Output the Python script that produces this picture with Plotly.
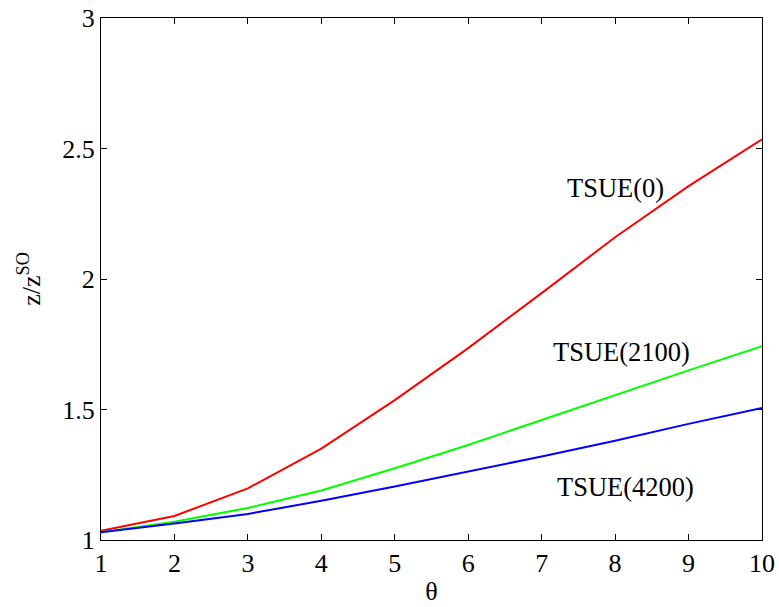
import plotly.graph_objects as go

theta = [1, 2, 3, 4, 5, 6, 7, 8, 9, 10]
tsue_0 = [1.035, 1.092, 1.198, 1.350, 1.536, 1.735, 1.946, 2.160, 2.356, 2.535]
tsue_2100 = [1.030, 1.070, 1.123, 1.190, 1.275, 1.364, 1.460, 1.556, 1.650, 1.743]
tsue_4200 = [1.030, 1.063, 1.100, 1.150, 1.205, 1.262, 1.320, 1.380, 1.445, 1.506]

labels = ["TSUE(0)", "TSUE(2100)", "TSUE(4200)"]
label_pos = [(8.0, 2.35), (8.09, 1.72), (8.14, 1.205)]

x_ticks = list(range(1, 11))
y_ticks = [1, 1.5, 2, 2.5, 3]
y_tick_text = ["1", "1.5", "2", "2.5", "3"]

FONT = "Liberation Serif, Times New Roman, serif"

fig = go.Figure()
for ys, col, name in [(tsue_0, "#ff0000", labels[0]),
                      (tsue_2100, "#00ff00", labels[1]),
                      (tsue_4200, "#0000ff", labels[2])]:
    fig.add_trace(go.Scatter(x=theta, y=ys, mode="lines", name=name,
                             line=dict(color=col, width=2)))

for (lx, ly), t in zip(label_pos, labels):
    fig.add_annotation(x=lx, y=ly, text=t, showarrow=False,
                       font=dict(family=FONT, size=26.5, color="black"))

axis_common = dict(showgrid=False, zeroline=False, showline=True, linecolor="black",
                   linewidth=1, mirror="ticks", ticks="inside", ticklen=6,
                   tickcolor="black", tickwidth=1, automargin=False,
                   tickfont=dict(family=FONT, size=26, color="black"))

fig.update_xaxes(range=[1, 10], tickvals=x_ticks, **axis_common,
                 title=dict(text="θ", font=dict(family=FONT, size=26, color="black"), standoff=4))
fig.update_yaxes(range=[1, 3], tickvals=y_ticks, ticktext=y_tick_text, **axis_common,
                 title=dict(text="z/z<sup>SO</sup>", font=dict(family=FONT, size=26, color="black"), standoff=14))

fig.update_layout(width=779, height=607, showlegend=False,
                  plot_bgcolor="white", paper_bgcolor="white",
                  margin=dict(l=101, r=17, t=18, b=67),
                  font=dict(family=FONT, color="black"))

# remove the default 8px page margin so the figure fills the window exactly
fig.write_html("out.html", config={"displayModeBar": False},
               post_script="document.body.style.margin='0';document.body.style.overflow='hidden';")
